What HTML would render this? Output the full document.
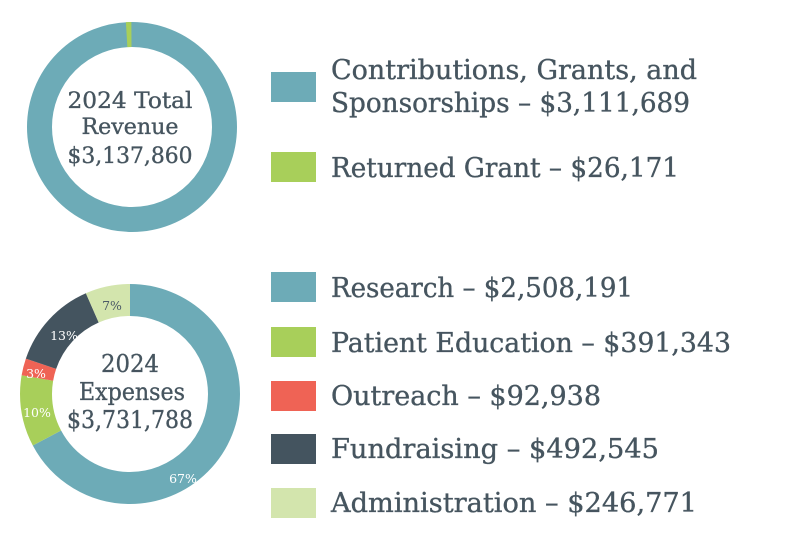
<!DOCTYPE html>
<html><head><meta charset="utf-8"><style>
html,body{margin:0;padding:0;background:#fff;}
svg{display:block;}
text{font-family:"DejaVu Serif","Liberation Serif",serif;fill:#46555f;stroke:#46555f;stroke-width:0.35;}
</style></head><body>
<svg width="800" height="558" viewBox="0 0 800 558" xmlns="http://www.w3.org/2000/svg">
<g transform="rotate(-90 132 127)">
<circle cx="132" cy="127" r="92.5" fill="none" stroke="#6dabb7" stroke-width="25"/>
<circle cx="132" cy="127" r="92.5" fill="none" stroke="#a8cf5a" stroke-width="25" stroke-dasharray="4.84 581.2" stroke-dashoffset="-575.55"/>
</g>
<text x="130" y="108" font-size="22" text-anchor="middle" textLength="125" lengthAdjust="spacingAndGlyphs">2024 Total</text>
<text x="130" y="134" font-size="22" text-anchor="middle" textLength="97" lengthAdjust="spacingAndGlyphs">Revenue</text>
<text x="130" y="163" font-size="22" text-anchor="middle" textLength="125" lengthAdjust="spacingAndGlyphs">$3,137,860</text>

<g transform="rotate(-90 130 394)" fill="none" stroke-width="32">
<circle cx="130" cy="394" r="94" stroke="#6dabb7" stroke-dasharray="396.96 590.6" stroke-dashoffset="0"/>
<circle cx="130" cy="394" r="94" stroke="#a8cf5a" stroke-dasharray="61.95 590.6" stroke-dashoffset="-396.96"/>
<circle cx="130" cy="394" r="94" stroke="#ef6355" stroke-dasharray="14.71 590.6" stroke-dashoffset="-458.91"/>
<circle cx="130" cy="394" r="94" stroke="#44545f" stroke-dasharray="77.96 590.6" stroke-dashoffset="-473.62"/>
<circle cx="130" cy="394" r="94" stroke="#d3e5ad" stroke-dasharray="39.04 590.6" stroke-dashoffset="-551.58"/>
</g>
<text x="130" y="372" font-size="24" text-anchor="middle" textLength="58" lengthAdjust="spacingAndGlyphs">2024</text>
<text x="132" y="400" font-size="24" text-anchor="middle" textLength="106" lengthAdjust="spacingAndGlyphs">Expenses</text>
<text x="130" y="428" font-size="24" text-anchor="middle" textLength="126" lengthAdjust="spacingAndGlyphs">$3,731,788</text>
<g font-size="12.5">
<text x="112" y="310" text-anchor="middle" style="fill:#4b5a67;stroke:none">7%</text>
<text x="64" y="340" text-anchor="middle" style="fill:#fff;stroke:none">13%</text>
<text x="36" y="378" text-anchor="middle" style="fill:#fff;stroke:none">3%</text>
<text x="37" y="417" text-anchor="middle" style="fill:#fff;stroke:none">10%</text>
<text x="183" y="483" text-anchor="middle" style="fill:#fff;stroke:none">67%</text>
</g>

<rect x="271" y="72" width="45" height="30" fill="#6dabb7"/>
<rect x="271" y="152" width="45" height="30" fill="#a8cf5a"/>
<g font-size="27">
<text x="331" y="79" textLength="366" lengthAdjust="spacingAndGlyphs">Contributions, Grants, and</text>
<text x="331" y="112" textLength="359" lengthAdjust="spacingAndGlyphs">Sponsorships – $3,111,689</text>
<text x="331" y="177" textLength="348" lengthAdjust="spacingAndGlyphs">Returned Grant – $26,171</text>
</g>
<rect x="271" y="272" width="45" height="30" fill="#6dabb7"/>
<rect x="271" y="327" width="45" height="30" fill="#a8cf5a"/>
<rect x="271" y="381" width="45" height="30" fill="#ef6355"/>
<rect x="271" y="434" width="45" height="30" fill="#44545f"/>
<rect x="271" y="488" width="45" height="30" fill="#d3e5ad"/>
<g font-size="27">
<text x="331" y="297" textLength="302" lengthAdjust="spacingAndGlyphs">Research – $2,508,191</text>
<text x="331" y="352" textLength="400" lengthAdjust="spacingAndGlyphs">Patient Education – $391,343</text>
<text x="331" y="405" textLength="270" lengthAdjust="spacingAndGlyphs">Outreach – $92,938</text>
<text x="331" y="458" textLength="328" lengthAdjust="spacingAndGlyphs">Fundraising – $492,545</text>
<text x="331" y="512" textLength="366" lengthAdjust="spacingAndGlyphs">Administration – $246,771</text>
</g>
</svg>
</body></html>
